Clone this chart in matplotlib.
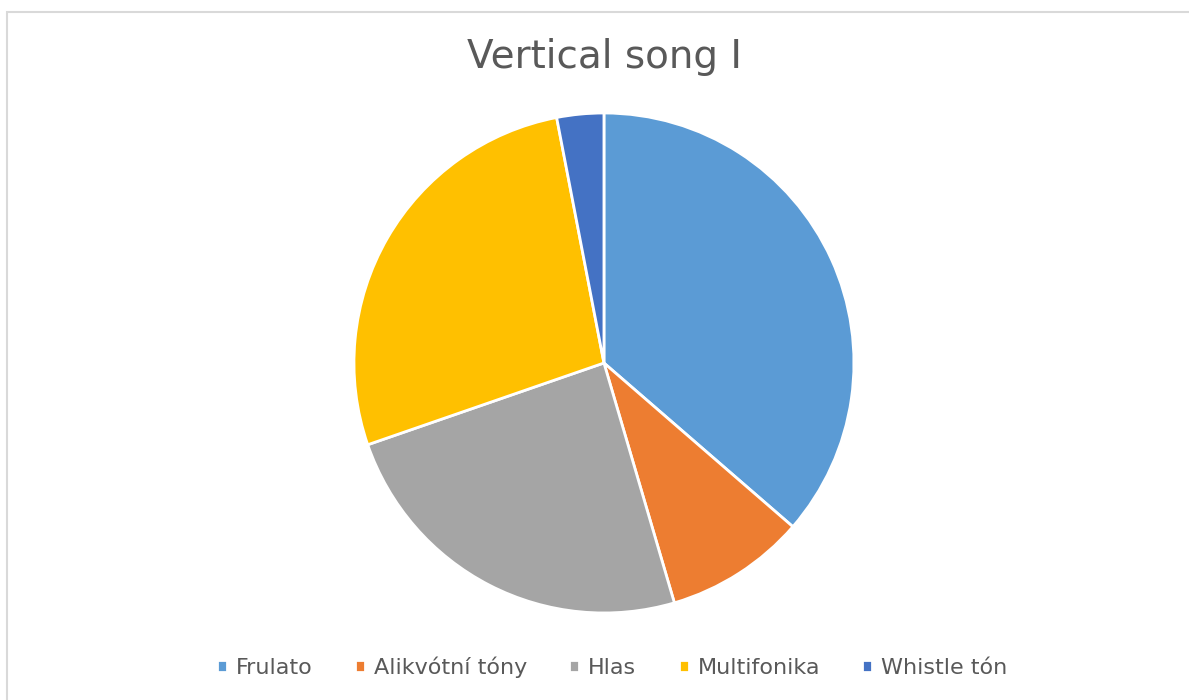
import matplotlib.pyplot as plt
from matplotlib.patches import Rectangle

# data
labels = ["Frulato", "Alikvótní tóny", "Hlas", "Multifonika", "Whistle tón"]
values = [12, 3, 8, 9, 1]
colors = ["#5B9BD5", "#ED7D31", "#A5A5A5", "#FFC000", "#4472C4"]

fig = plt.figure(figsize=(11.89, 7.0), dpi=100)

# light frame of the chart area
fig.patches.append(Rectangle((7 / 1189, -0.01), 1.02, (700 - 12) / 700 + 0.01,
                             transform=fig.transFigure, fill=False,
                             edgecolor="#D9D9D9", linewidth=1.5))

ax = fig.add_axes([0.2977, 0.1243, 0.4205, 0.7143])
wedges, _ = ax.pie(values, colors=colors, startangle=90, counterclock=False,
                   wedgeprops=dict(edgecolor="white", linewidth=2))
ax.set_xlim(-1, 1)
ax.set_ylim(-1, 1)
ax.set_aspect("equal")

fig.text(0.508, 0.918, "Vertical song I", ha="center", va="center",
         fontsize=28, color="#595959")

fig.legend(wedges, labels, loc="center", bbox_to_anchor=(0.515, 0.047),
           ncol=5, frameon=False, fontsize=16, labelcolor="#595959",
           handlelength=0.45, handleheight=0.45, handletextpad=0.4,
           columnspacing=1.9)

fig.savefig("out.png", dpi=100)
